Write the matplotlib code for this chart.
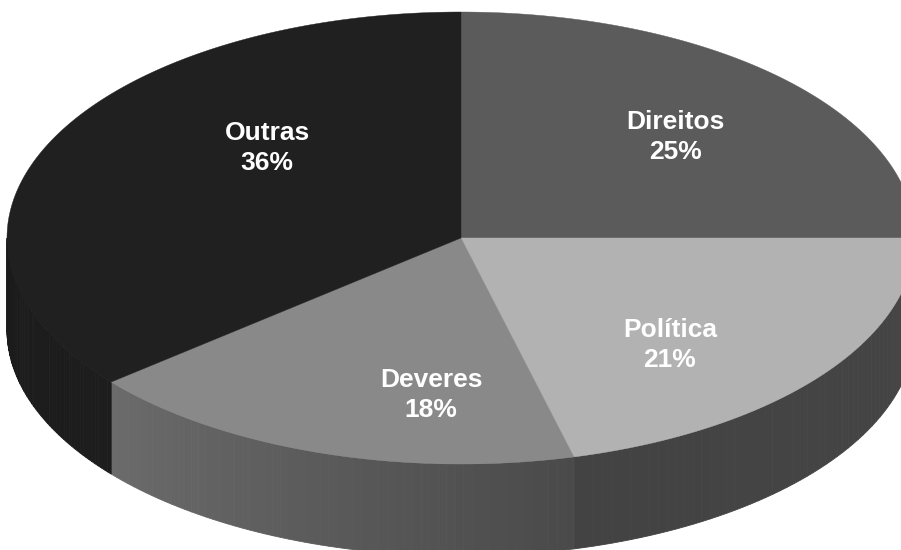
import matplotlib
matplotlib.use("Agg")
import matplotlib.pyplot as plt
import numpy as np
from matplotlib.patches import Polygon

# dados do grafico
categorias = ["Direitos", "Política", "Deveres", "Outras"]
valores = [25, 21, 18, 36]

# cores (topo e lateral: inicio -> fim no sentido horario)
cor_topo = ["#5b5b5b", "#b2b2b2", "#898989", "#202020"]
cor_lado = [("#4a4a4a", "#4a4a4a"), ("#454545", "#434343"),
            ("#4a4a4a", "#6b6b6b"), ("#1d1d1d", "#1b1b1b")]

# geometria da pizza (em pixels da figura)
cx, cy = 461.0, 238.0
a, b = 454.0, 226.0
prof = 92.0

plt.rcParams['font.family'] = ['Liberation Sans', 'DejaVu Sans']

fig = plt.figure(figsize=(9.01, 5.5), dpi=100)
ax = fig.add_axes([0, 0, 1, 1])
ax.set_xlim(0, 901)
ax.set_ylim(550, 0)
ax.axis("off")


def ponto(t, dy=0.0):
    return cx + a * np.cos(t), cy - b * np.sin(t) + dy


def hex2rgb(h):
    return np.array([int(h[i:i + 2], 16) for i in (1, 3, 5)]) / 255.0


# angulos das fatias, comecando as 12h, sentido horario
total = float(sum(valores))
acum = np.cumsum([0] + valores) / total
ang = np.pi / 2 - 2 * np.pi * acum

# laterais (parte da frente: angulos entre -pi e 0)
for i in range(len(valores)):
    t0, t1 = ang[i], ang[i + 1]
    s0, s1 = min(t0, 0.0), max(t1, -np.pi)
    if s0 <= s1:
        continue
    c0, c1 = hex2rgb(cor_lado[i][0]), hex2rgb(cor_lado[i][1])
    n = 60
    ts = np.linspace(s0, s1, n + 1)
    for k in range(n):
        ta, tb = ts[k], ts[k + 1]
        tt = np.linspace(ta, tb, 4)
        xs, ys = ponto(tt)
        xb, yb = ponto(tt[::-1], prof)
        pts = np.column_stack([np.r_[xs, xb], np.r_[ys, yb]])
        f = (k + 0.5) / n
        cor = c0 * (1 - f) + c1 * f
        ax.add_patch(Polygon(pts, closed=True, facecolor=cor, edgecolor=cor,
                             linewidth=0.6))

# topo
for i in range(len(valores)):
    tt = np.linspace(ang[i], ang[i + 1], 200)
    xs, ys = ponto(tt)
    pts = np.column_stack([np.r_[cx, xs], np.r_[cy, ys]])
    ax.add_patch(Polygon(pts, closed=True, facecolor=cor_topo[i],
                         edgecolor=cor_topo[i], linewidth=0.3))

# rotulos
pos_rot = [(675, 137), (670, 345), (431, 395), (267, 148)]
for i in range(len(valores)):
    x, y = pos_rot[i]
    ax.text(x, y, "%s\n%d%%" % (categorias[i], valores[i]), color="white",
            fontsize=19, fontweight="bold", ha="center", va="center",
            linespacing=1.28)

fig.savefig("out.png", dpi=100)
